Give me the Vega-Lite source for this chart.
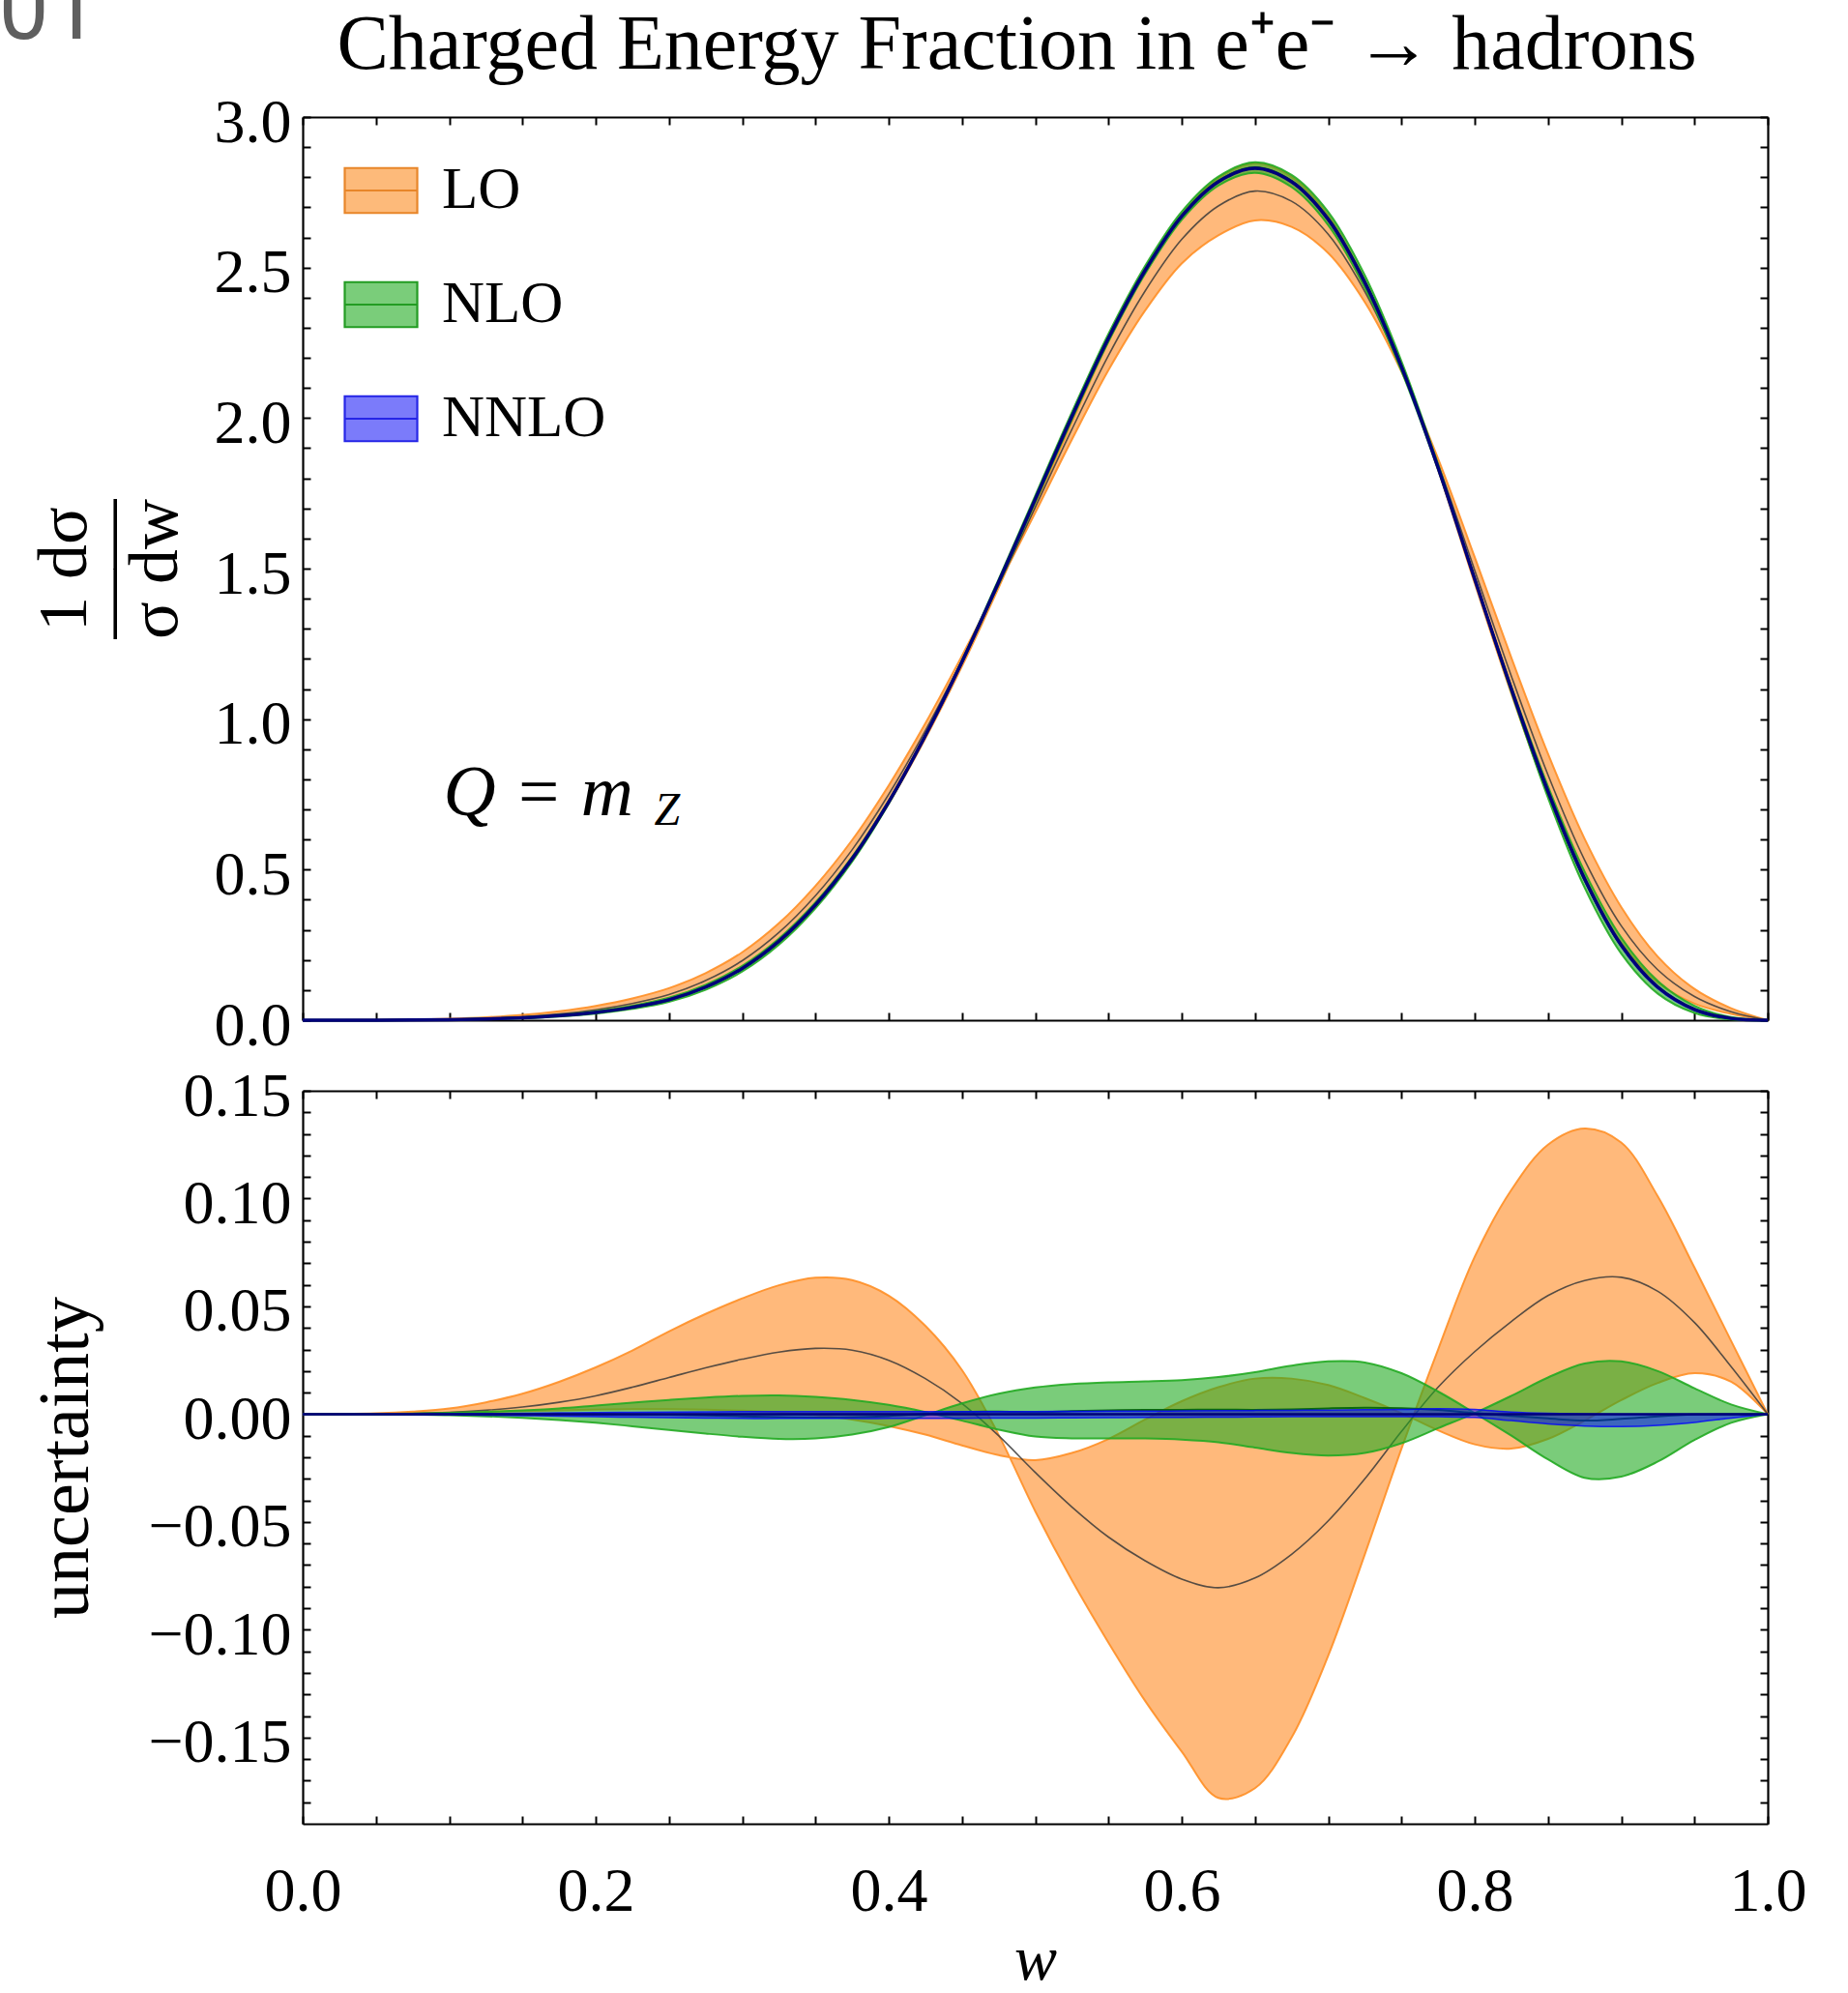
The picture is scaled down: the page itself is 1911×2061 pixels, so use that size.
{
  "$schema": "https://vega.github.io/schema/vega-lite/v6.json",
  "background": "white",
  "padding": {"left": -53, "top": -34, "right": 10, "bottom": 0},
  "title": {"text": "001", "anchor": "start", "frame": "bounds", "font": "Roboto", "fontSize": 92, "fontWeight": "normal", "color": "#5f5f5f", "dx": -83, "offset": -52},
  "config": {
    "font": "Liberation Serif",
    "view": {"stroke": null},
    "axis": {"grid": false, "domainColor": "black", "domainWidth": 2.2, "tickColor": "black", "tickWidth": 2, "tickSize": -8,
      "labelFont": "Liberation Serif", "labelFontSize": 64, "labelColor": "black",
      "titleFont": "Liberation Serif", "titleFontWeight": "normal", "titleColor": "black",
      "labelOverlap": false, "labelFlush": false, "labelBound": false, "zindex": 1}
  },
  "datasets": {"d": [
{"w":0,"f":0,"lc":0,"la":0,"lb":0,"nc":0,"na":0,"nb":0,"pu":0,"pd":0,"tlc":0,"tla":0,"tlb":0,"tnc":0,"tna":0,"tnb":0,"tpu":0,"tpd":0},
{"w":0.025,"f":0,"lc":0,"la":0.0001,"lb":0,"nc":0,"na":0,"nb":0,"pu":0,"pd":0,"tlc":0,"tla":0.0001,"tlb":0,"tnc":0,"tna":0,"tnb":0,"tpu":0,"tpd":0},
{"w":0.05,"f":0.0002,"lc":0.0001,"la":0.0004,"lb":0.0001,"nc":0,"na":0.0001,"nb":-0.0001,"pu":0,"pd":0,"tlc":0.0003,"tla":0.0006,"tlb":0.0003,"tnc":0.0002,"tna":0.0003,"tnb":0.0001,"tpu":0.0002,"tpd":0.0002},
{"w":0.075,"f":0.0008,"lc":0.0003,"la":0.0012,"lb":0.0003,"nc":0,"na":0.0003,"nb":-0.0002,"pu":0.0001,"pd":-0.0001,"tlc":0.0011,"tla":0.002,"tlb":0.0011,"tnc":0.0008,"tna":0.0011,"tnb":0.0006,"tpu":0.0009,"tpd":0.0007},
{"w":0.1,"f":0.002,"lc":0.0008,"la":0.0026,"lb":0.0006,"nc":0,"na":0.0006,"nb":-0.0005,"pu":0.0002,"pd":-0.0003,"tlc":0.0028,"tla":0.0046,"tlb":0.0026,"tnc":0.002,"tna":0.0026,"tnb":0.0015,"tpu":0.0022,"tpd":0.0017},
{"w":0.125,"f":0.004,"lc":0.0018,"la":0.0055,"lb":0.001,"nc":0,"na":0.0011,"nb":-0.001,"pu":0.0003,"pd":-0.0005,"tlc":0.0058,"tla":0.0095,"tlb":0.005,"tnc":0.004,"tna":0.0051,"tnb":0.003,"tpu":0.0043,"tpd":0.0035},
{"w":0.15,"f":0.008,"lc":0.0033,"la":0.0095,"lb":0.0014,"nc":0,"na":0.0018,"nb":-0.0017,"pu":0.0004,"pd":-0.0007,"tlc":0.0113,"tla":0.0175,"tlb":0.0094,"tnc":0.008,"tna":0.0098,"tnb":0.0063,"tpu":0.0084,"tpd":0.0073},
{"w":0.175,"f":0.015,"lc":0.0055,"la":0.015,"lb":0.0018,"nc":0,"na":0.0027,"nb":-0.0027,"pu":0.0006,"pd":-0.0009,"tlc":0.0205,"tla":0.03,"tlb":0.0168,"tnc":0.015,"tna":0.0177,"tnb":0.0123,"tpu":0.0156,"tpd":0.0141},
{"w":0.2,"f":0.026,"lc":0.0085,"la":0.0217,"lb":0.0021,"nc":0,"na":0.004,"nb":-0.004,"pu":0.0008,"pd":-0.0012,"tlc":0.0345,"tla":0.0477,"tlb":0.0281,"tnc":0.026,"tna":0.03,"tnb":0.022,"tpu":0.0268,"tpd":0.0248},
{"w":0.225,"f":0.043,"lc":0.0125,"la":0.0295,"lb":0.0023,"nc":-0.0001,"na":0.0053,"nb":-0.0056,"pu":0.0009,"pd":-0.0014,"tlc":0.0555,"tla":0.0725,"tlb":0.0453,"tnc":0.0429,"tna":0.0483,"tnb":0.0374,"tpu":0.0439,"tpd":0.0416},
{"w":0.25,"f":0.068,"lc":0.017,"la":0.0384,"lb":0.0023,"nc":-0.0003,"na":0.0066,"nb":-0.0073,"pu":0.001,"pd":-0.0016,"tlc":0.085,"tla":0.1064,"tlb":0.0703,"tnc":0.0677,"tna":0.0746,"tnb":0.0607,"tpu":0.069,"tpd":0.0664},
{"w":0.275,"f":0.11,"lc":0.0215,"la":0.0465,"lb":0.0021,"nc":-0.0006,"na":0.0077,"nb":-0.009,"pu":0.0011,"pd":-0.0018,"tlc":0.1315,"tla":0.1565,"tlb":0.1121,"tnc":0.1094,"tna":0.1177,"tnb":0.101,"tpu":0.1111,"tpd":0.1082},
{"w":0.3,"f":0.172,"lc":0.0255,"la":0.0537,"lb":0.0016,"nc":-0.001,"na":0.0085,"nb":-0.0105,"pu":0.0012,"pd":-0.002,"tlc":0.1975,"tla":0.2257,"tlb":0.1736,"tnc":0.171,"tna":0.1805,"tnb":0.1615,"tpu":0.1732,"tpd":0.17},
{"w":0.325,"f":0.262,"lc":0.0288,"la":0.0598,"lb":0.0008,"nc":-0.0014,"na":0.0087,"nb":-0.0115,"pu":0.0012,"pd":-0.002,"tlc":0.2908,"tla":0.3218,"tlb":0.2628,"tnc":0.2606,"tna":0.2707,"tnb":0.2505,"tpu":0.2632,"tpd":0.26},
{"w":0.35,"f":0.383,"lc":0.0305,"la":0.0633,"lb":-0.0005,"nc":-0.0016,"na":0.008,"nb":-0.0113,"pu":0.0012,"pd":-0.002,"tlc":0.4135,"tla":0.4463,"tlb":0.3825,"tnc":0.3814,"tna":0.391,"tnb":0.3717,"tpu":0.3842,"tpd":0.381},
{"w":0.375,"f":0.536,"lc":0.0297,"la":0.0622,"lb":-0.0025,"nc":-0.0015,"na":0.0066,"nb":-0.0095,"pu":0.0012,"pd":-0.002,"tlc":0.5657,"tla":0.5982,"tlb":0.5335,"tnc":0.5345,"tna":0.5426,"tnb":0.5265,"tpu":0.5372,"tpd":0.534},
{"w":0.4,"f":0.725,"lc":0.025,"la":0.055,"lb":-0.0055,"nc":-0.0009,"na":0.0043,"nb":-0.006,"pu":0.0012,"pd":-0.002,"tlc":0.75,"tla":0.78,"tlb":0.7195,"tnc":0.7241,"tna":0.7293,"tnb":0.719,"tpu":0.7262,"tpd":0.723},
{"w":0.425,"f":0.945,"lc":0.0165,"la":0.041,"lb":-0.0095,"nc":0.0002,"na":0.001,"nb":-0.0005,"pu":0.0012,"pd":-0.0019,"tlc":0.9615,"tla":0.986,"tlb":0.9355,"tnc":0.9452,"tna":0.946,"tnb":0.9445,"tpu":0.9462,"tpd":0.9431},
{"w":0.45,"f":1.19,"lc":0.005,"la":0.0205,"lb":-0.0145,"nc":0.001,"na":-0.003,"nb":0.005,"pu":0.0012,"pd":-0.0019,"tlc":1.195,"tla":1.2105,"tlb":1.1755,"tnc":1.191,"tna":1.187,"tnb":1.195,"tpu":1.1912,"tpd":1.1881},
{"w":0.475,"f":1.455,"lc":-0.01,"la":-0.0095,"lb":-0.019,"nc":0.0012,"na":-0.0072,"nb":0.0095,"pu":0.0012,"pd":-0.0018,"tlc":1.445,"tla":1.4455,"tlb":1.436,"tnc":1.4562,"tna":1.4478,"tnb":1.4645,"tpu":1.4562,"tpd":1.4532},
{"w":0.5,"f":1.73,"lc":-0.027,"la":-0.045,"lb":-0.0213,"nc":0.001,"na":-0.0104,"nb":0.0124,"pu":0.0012,"pd":-0.0018,"tlc":1.703,"tla":1.685,"tlb":1.7087,"tnc":1.731,"tna":1.7196,"tnb":1.7424,"tpu":1.7312,"tpd":1.7282},
{"w":0.525,"f":2.005,"lc":-0.043,"la":-0.077,"lb":-0.018,"nc":0.0014,"na":-0.0112,"nb":0.014,"pu":0.0013,"pd":-0.0017,"tlc":1.962,"tla":1.928,"tlb":1.987,"tnc":2.0064,"tna":1.9938,"tnb":2.019,"tpu":2.0063,"tpd":2.0033},
{"w":0.55,"f":2.265,"lc":-0.057,"la":-0.106,"lb":-0.0115,"nc":0.0018,"na":-0.0112,"nb":0.0148,"pu":0.0014,"pd":-0.0016,"tlc":2.208,"tla":2.159,"tlb":2.2535,"tnc":2.2668,"tna":2.2538,"tnb":2.2798,"tpu":2.2664,"tpd":2.2634},
{"w":0.575,"f":2.49,"lc":-0.068,"la":-0.133,"lb":-0.0025,"nc":0.002,"na":-0.0113,"nb":0.0152,"pu":0.0014,"pd":-0.0015,"tlc":2.422,"tla":2.357,"tlb":2.4875,"tnc":2.492,"tna":2.4787,"tnb":2.5052,"tpu":2.4914,"tpd":2.4885},
{"w":0.6,"f":2.67,"lc":-0.0765,"la":-0.1565,"lb":0.006,"nc":0.002,"na":-0.0118,"nb":0.0158,"pu":0.0015,"pd":-0.0015,"tlc":2.5935,"tla":2.5135,"tlb":2.676,"tnc":2.672,"tna":2.6582,"tnb":2.6858,"tpu":2.6715,"tpd":2.6685},
{"w":0.625,"f":2.785,"lc":-0.0805,"la":-0.178,"lb":0.0125,"nc":0.0021,"na":-0.013,"nb":0.0172,"pu":0.0016,"pd":-0.0014,"tlc":2.7045,"tla":2.607,"tlb":2.7975,"tnc":2.7871,"tna":2.772,"tnb":2.8022,"tpu":2.7866,"tpd":2.7836},
{"w":0.65,"f":2.83,"lc":-0.076,"la":-0.1735,"lb":0.0165,"nc":0.002,"na":-0.0155,"nb":0.0195,"pu":0.0017,"pd":-0.0013,"tlc":2.754,"tla":2.6565,"tlb":2.8465,"tnc":2.832,"tna":2.8145,"tnb":2.8495,"tpu":2.8317,"tpd":2.8287},
{"w":0.675,"f":2.785,"lc":-0.065,"la":-0.15,"lb":0.0165,"nc":0.0022,"na":-0.018,"nb":0.0225,"pu":0.0018,"pd":-0.0012,"tlc":2.72,"tla":2.635,"tlb":2.8015,"tnc":2.7872,"tna":2.767,"tnb":2.8075,"tpu":2.7868,"tpd":2.7838},
{"w":0.7,"f":2.66,"lc":-0.0495,"la":-0.112,"lb":0.0135,"nc":0.0027,"na":-0.0192,"nb":0.0245,"pu":0.0019,"pd":-0.0012,"tlc":2.6105,"tla":2.548,"tlb":2.6735,"tnc":2.6627,"tna":2.6408,"tnb":2.6845,"tpu":2.6619,"tpd":2.6588},
{"w":0.725,"f":2.45,"lc":-0.03,"la":-0.065,"lb":0.0075,"nc":0.003,"na":-0.018,"nb":0.024,"pu":0.0021,"pd":-0.0012,"tlc":2.42,"tla":2.385,"tlb":2.4575,"tnc":2.453,"tna":2.432,"tnb":2.474,"tpu":2.4521,"tpd":2.4488},
{"w":0.75,"f":2.17,"lc":-0.008,"la":-0.016,"lb":0.0005,"nc":0.0028,"na":-0.0135,"nb":0.019,"pu":0.0022,"pd":-0.0012,"tlc":2.162,"tla":2.154,"tlb":2.1705,"tnc":2.1728,"tna":2.1565,"tnb":2.189,"tpu":2.1722,"tpd":2.1688},
{"w":0.775,"f":1.835,"lc":0.0125,"la":0.03,"lb":-0.0075,"nc":0.002,"na":-0.0065,"nb":0.0105,"pu":0.0025,"pd":-0.0012,"tlc":1.8475,"tla":1.865,"tlb":1.8275,"tnc":1.837,"tna":1.8285,"tnb":1.8455,"tpu":1.8375,"tpd":1.8338},
{"w":0.8,"f":1.465,"lc":0.029,"la":0.073,"lb":-0.014,"nc":0.0005,"na":0.0005,"nb":0.0005,"pu":0.0022,"pd":-0.0015,"tlc":1.494,"tla":1.538,"tlb":1.451,"tnc":1.4655,"tna":1.4655,"tnb":1.4655,"tpu":1.4672,"tpd":1.4635},
{"w":0.825,"f":1.1,"lc":0.043,"la":0.104,"lb":-0.016,"nc":-0.0008,"na":0.0085,"nb":-0.01,"pu":0.001,"pd":-0.003,"tlc":1.143,"tla":1.204,"tlb":1.084,"tnc":1.0992,"tna":1.1085,"tnb":1.09,"tpu":1.101,"tpd":1.097},
{"w":0.85,"f":0.76,"lc":0.055,"la":0.125,"lb":-0.0115,"nc":-0.002,"na":0.017,"nb":-0.021,"pu":0.0004,"pd":-0.0045,"tlc":0.815,"tla":0.885,"tlb":0.7485,"tnc":0.758,"tna":0.777,"tnb":0.739,"tpu":0.7604,"tpd":0.7555},
{"w":0.875,"f":0.47,"lc":0.062,"la":0.1325,"lb":-0.003,"nc":-0.003,"na":0.0235,"nb":-0.0295,"pu":0.0001,"pd":-0.0055,"tlc":0.532,"tla":0.6025,"tlb":0.467,"tnc":0.467,"tna":0.4935,"tnb":0.4405,"tpu":0.4701,"tpd":0.4645},
{"w":0.9,"f":0.25,"lc":0.0635,"la":0.126,"lb":0.0065,"nc":-0.0022,"na":0.0245,"nb":-0.029,"pu":0,"pd":-0.0058,"tlc":0.3135,"tla":0.376,"tlb":0.2565,"tnc":0.2478,"tna":0.2745,"tnb":0.221,"tpu":0.25,"tpd":0.2442},
{"w":0.925,"f":0.11,"lc":0.057,"la":0.101,"lb":0.0145,"nc":-0.001,"na":0.02,"nb":-0.022,"pu":0,"pd":-0.0052,"tlc":0.167,"tla":0.211,"tlb":0.1245,"tnc":0.109,"tna":0.13,"tnb":0.088,"tpu":0.11,"tpd":0.1048},
{"w":0.95,"f":0.036,"lc":0.0425,"la":0.068,"lb":0.019,"nc":-0.0002,"na":0.012,"nb":-0.012,"pu":0,"pd":-0.0038,"tlc":0.0785,"tla":0.104,"tlb":0.055,"tnc":0.0358,"tna":0.048,"tnb":0.024,"tpu":0.036,"tpd":0.0322},
{"w":0.975,"f":0.006,"lc":0.022,"la":0.034,"lb":0.015,"nc":0,"na":0.0045,"nb":-0.004,"pu":0,"pd":-0.0018,"tlc":0.028,"tla":0.04,"tlb":0.021,"tnc":0.006,"tna":0.0105,"tnb":0.002,"tpu":0.006,"tpd":0.0042},
{"w":1,"f":0,"lc":0,"la":0,"lb":0,"nc":0,"na":0,"nb":0,"pu":0,"pd":0,"tlc":0,"tla":0,"tlb":0,"tnc":0,"tna":0,"tnb":0,"tpu":0,"tpd":0}
  ]},
  "spacing": 9,
  "vconcat": [
    {
      "width": 1515, "height": 934,
      "title": {"text": "Charged Energy Fraction in e⁺e⁻ → hadrons", "font": "Liberation Serif", "fontSize": 80, "fontWeight": "normal", "color": "black", "offset": 7, "dx": -19, "anchor": "middle", "frame": "group"},
      "data": {"name": "d"},
      "resolve": {"axis": {"x": "independent", "y": "independent"}},
      "layer": [
        {"mark": {"type": "area", "interpolate": "catmull-rom", "fill": "#ff7f0e", "fillOpacity": 0.55, "stroke": "#ff8f26", "strokeWidth": 2, "strokeOpacity": 0.9},
         "encoding": {
           "x": {"field": "w", "type": "quantitative", "scale": {"domain": [0, 1], "nice": false},
                 "axis": {"orient": "bottom", "values": [0,0.05,0.1,0.15,0.2,0.25,0.3,0.35,0.4,0.45,0.5,0.55,0.6,0.65,0.7,0.75,0.8,0.85,0.9,0.95,1], "labels": false, "title": null,
                          "encode": {"ticks": {"y2": {"condition": {"test": "abs(datum.value*5-round(datum.value*5))<1e-6", "value": -15}, "value": -8}}}}},
           "y": {"field": "tla", "type": "quantitative", "scale": {"domain": [0, 3], "nice": false},
                 "axis": {"orient": "left", "values": [0,0.1,0.2,0.3,0.4,0.5,0.6,0.7,0.8,0.9,1,1.1,1.2,1.3,1.4,1.5,1.6,1.7,1.8,1.9,2,2.1,2.2,2.3,2.4,2.5,2.6,2.7,2.8,2.9,3],
                          "labelExpr": "abs(datum.value*2-round(datum.value*2))<1e-6 ? format(datum.value,'.1f') : ''",
                          "labelPadding": 20, "labelOffset": 6,
                          "title": ["1 dσ", "——", "σ dw"], "titleFontSize": 72, "titleLineHeight": 47, "titlePadding": 24,
                          "encode": {"ticks": {"x2": {"condition": {"test": "abs(datum.value*2-round(datum.value*2))<1e-6", "value": 15}, "value": 8}}}}},
           "y2": {"field": "tlb"}
         }},
        {"mark": {"type": "line", "interpolate": "catmull-rom", "stroke": "#3a3a3a", "strokeWidth": 1.6, "opacity": 0.85},
         "encoding": {
           "x": {"field": "w", "type": "quantitative",
                 "axis": {"orient": "top", "values": [0,0.05,0.1,0.15,0.2,0.25,0.3,0.35,0.4,0.45,0.5,0.55,0.6,0.65,0.7,0.75,0.8,0.85,0.9,0.95,1], "labels": false, "title": null,
                          "encode": {"ticks": {"y2": {"condition": {"test": "abs(datum.value*5-round(datum.value*5))<1e-6", "value": 15}, "value": 8}}}}},
           "y": {"field": "tlc", "type": "quantitative",
                 "axis": {"orient": "right", "values": [0,0.1,0.2,0.3,0.4,0.5,0.6,0.7,0.8,0.9,1,1.1,1.2,1.3,1.4,1.5,1.6,1.7,1.8,1.9,2,2.1,2.2,2.3,2.4,2.5,2.6,2.7,2.8,2.9,3], "labels": false, "title": null,
                          "encode": {"ticks": {"x2": {"condition": {"test": "abs(datum.value*2-round(datum.value*2))<1e-6", "value": -15}, "value": -8}}}}}
         }},
        {"mark": {"type": "area", "interpolate": "catmull-rom", "fill": "#22aa22", "fillOpacity": 0.6, "stroke": "#22aa22", "strokeWidth": 2, "strokeOpacity": 0.9},
         "encoding": {
           "x": {"field": "w", "type": "quantitative", "axis": null},
           "y": {"field": "tna", "type": "quantitative", "axis": null},
           "y2": {"field": "tnb"}
         }},
        {"mark": {"type": "line", "interpolate": "catmull-rom", "stroke": "#0b6b0b", "strokeWidth": 2.5},
         "encoding": {
           "x": {"field": "w", "type": "quantitative", "axis": null},
           "y": {"field": "tnc", "type": "quantitative", "axis": null}
         }},
        {"mark": {"type": "area", "interpolate": "catmull-rom", "fill": "#0000ff", "fillOpacity": 0.5, "stroke": "#0000ff", "strokeWidth": 1.5, "strokeOpacity": 0.8},
         "encoding": {
           "x": {"field": "w", "type": "quantitative", "axis": null},
           "y": {"field": "tpu", "type": "quantitative", "axis": null},
           "y2": {"field": "tpd"}
         }},
        {"mark": {"type": "line", "interpolate": "catmull-rom", "stroke": "#00007a", "strokeWidth": 3.5},
         "encoding": {
           "x": {"field": "w", "type": "quantitative", "axis": null},
           "y": {"field": "f", "type": "quantitative", "axis": null}
         }},
        {"data": {"values": [{"k": "LO"}, {"k": "NLO"}, {"k": "NNLO"}]},
         "mark": {"type": "square", "opacity": 0},
         "encoding": {
           "x": {"datum": 0.5, "type": "quantitative", "axis": null},
           "y": {"datum": 1.5, "type": "quantitative", "axis": null},
           "fill": {"field": "k", "type": "nominal",
                    "scale": {"domain": ["LO", "NLO", "NNLO"], "range": ["#fdba7a", "#7acd7a", "#7b7bfa"]},
                    "legend": {"orient": "none", "legendX": 42, "legendY": 37, "title": null,
                               "symbolType": "M-1,-0.62H1V0.62H-1ZM-1,0H1", "symbolSize": 5625, "symbolStrokeWidth": 2.2, "symbolOpacity": 1,
                               "labelFont": "Liberation Serif", "labelFontSize": 61, "labelColor": "black", "labelOffset": 24, "labelLimit": 600, "rowPadding": 49, "padding": 0}},
           "stroke": {"field": "k", "type": "nominal",
                    "scale": {"domain": ["LO", "NLO", "NNLO"], "range": ["#e8862a", "#239c23", "#2626e6"]},
                    "legend": {"orient": "none", "legendX": 42, "legendY": 37, "title": null,
                               "symbolType": "M-1,-0.62H1V0.62H-1ZM-1,0H1", "symbolSize": 5625, "symbolStrokeWidth": 2.2, "symbolOpacity": 1,
                               "labelFont": "Liberation Serif", "labelFontSize": 61, "labelColor": "black", "labelOffset": 24, "labelLimit": 600, "rowPadding": 49, "padding": 0}}
         }},
        {"data": {"values": [{"label": "Q  =  m"}]},
         "mark": {"type": "text", "font": "Liberation Serif", "fontStyle": "italic", "fontSize": 75, "align": "left", "baseline": "alphabetic", "color": "black"},
         "encoding": {
           "x": {"datum": 0.096, "type": "quantitative", "axis": null},
           "y": {"datum": 0.681, "type": "quantitative", "axis": null},
           "text": {"field": "label"}
         }},
        {"data": {"values": [{"label": "Z"}]},
         "mark": {"type": "text", "font": "Liberation Serif", "fontStyle": "italic", "fontSize": 48, "align": "left", "baseline": "alphabetic", "color": "black", "dx": 218, "dy": 10},
         "encoding": {
           "x": {"datum": 0.096, "type": "quantitative", "axis": null},
           "y": {"datum": 0.681, "type": "quantitative", "axis": null},
           "text": {"field": "label"}
         }}
      ]
    },
    {
      "width": 1515, "height": 758,
      "data": {"name": "d"},
      "resolve": {"axis": {"x": "independent", "y": "independent"}},
      "layer": [
        {"mark": {"type": "area", "interpolate": "catmull-rom", "fill": "#ff7f0e", "fillOpacity": 0.55, "stroke": "#ff8f26", "strokeWidth": 2, "strokeOpacity": 0.9},
         "encoding": {
           "x": {"field": "w", "type": "quantitative", "scale": {"domain": [0, 1], "nice": false},
                 "axis": {"orient": "bottom", "values": [0,0.05,0.1,0.15,0.2,0.25,0.3,0.35,0.4,0.45,0.5,0.55,0.6,0.65,0.7,0.75,0.8,0.85,0.9,0.95,1],
                          "labelExpr": "abs(datum.value*5-round(datum.value*5))<1e-6 ? format(datum.value,'.1f') : ''",
                          "labelPadding": 46, "title": "w", "titleFontStyle": "italic", "titleFontSize": 66, "titlePadding": 6,
                          "encode": {"ticks": {"y2": {"condition": {"test": "abs(datum.value*5-round(datum.value*5))<1e-6", "value": -15}, "value": -8}}}}},
           "y": {"field": "la", "type": "quantitative", "scale": {"domain": [-0.19, 0.15], "nice": false},
                 "axis": {"orient": "left", "values": [-0.18,-0.17,-0.16,-0.15,-0.14,-0.13,-0.12,-0.11,-0.1,-0.09,-0.08,-0.07,-0.06,-0.05,-0.04,-0.03,-0.02,-0.01,0,0.01,0.02,0.03,0.04,0.05,0.06,0.07,0.08,0.09,0.1,0.11,0.12,0.13,0.14,0.15],
                          "labelExpr": "abs(datum.value*20-round(datum.value*20))<1e-6 ? format(datum.value,'.2f') : ''",
                          "labelPadding": 20, "labelOffset": 6,
                          "title": "uncertainty", "titleFontSize": 74, "titlePadding": 46,
                          "encode": {"ticks": {"x2": {"condition": {"test": "abs(datum.value*20-round(datum.value*20))<1e-6", "value": 15}, "value": 8}}}}},
           "y2": {"field": "lb"}
         }},
        {"mark": {"type": "line", "interpolate": "catmull-rom", "stroke": "#3a3a3a", "strokeWidth": 1.6, "opacity": 0.85},
         "encoding": {
           "x": {"field": "w", "type": "quantitative",
                 "axis": {"orient": "top", "values": [0,0.05,0.1,0.15,0.2,0.25,0.3,0.35,0.4,0.45,0.5,0.55,0.6,0.65,0.7,0.75,0.8,0.85,0.9,0.95,1], "labels": false, "title": null,
                          "encode": {"ticks": {"y2": {"condition": {"test": "abs(datum.value*5-round(datum.value*5))<1e-6", "value": 15}, "value": 8}}}}},
           "y": {"field": "lc", "type": "quantitative",
                 "axis": {"orient": "right", "values": [-0.18,-0.17,-0.16,-0.15,-0.14,-0.13,-0.12,-0.11,-0.1,-0.09,-0.08,-0.07,-0.06,-0.05,-0.04,-0.03,-0.02,-0.01,0,0.01,0.02,0.03,0.04,0.05,0.06,0.07,0.08,0.09,0.1,0.11,0.12,0.13,0.14,0.15], "labels": false, "title": null,
                          "encode": {"ticks": {"x2": {"condition": {"test": "abs(datum.value*20-round(datum.value*20))<1e-6", "value": -15}, "value": -8}}}}}
         }},
        {"mark": {"type": "area", "interpolate": "catmull-rom", "fill": "#22aa22", "fillOpacity": 0.6, "stroke": "#22aa22", "strokeWidth": 2, "strokeOpacity": 0.9},
         "encoding": {
           "x": {"field": "w", "type": "quantitative", "axis": null},
           "y": {"field": "na", "type": "quantitative", "axis": null},
           "y2": {"field": "nb"}
         }},
        {"mark": {"type": "line", "interpolate": "catmull-rom", "stroke": "#0b6b0b", "strokeWidth": 2},
         "encoding": {
           "x": {"field": "w", "type": "quantitative", "axis": null},
           "y": {"field": "nc", "type": "quantitative", "axis": null}
         }},
        {"mark": {"type": "area", "interpolate": "catmull-rom", "fill": "#0000ff", "fillOpacity": 0.5, "stroke": "#0000ff", "strokeWidth": 1.5, "strokeOpacity": 0.8},
         "encoding": {
           "x": {"field": "w", "type": "quantitative", "axis": null},
           "y": {"field": "pu", "type": "quantitative", "axis": null},
           "y2": {"field": "pd"}
         }},
        {"mark": {"type": "line", "stroke": "#00007a", "strokeWidth": 2.5},
         "encoding": {
           "x": {"field": "w", "type": "quantitative", "axis": null},
           "y": {"datum": 0, "type": "quantitative", "axis": null}
         }}
      ]
    }
  ]
}
